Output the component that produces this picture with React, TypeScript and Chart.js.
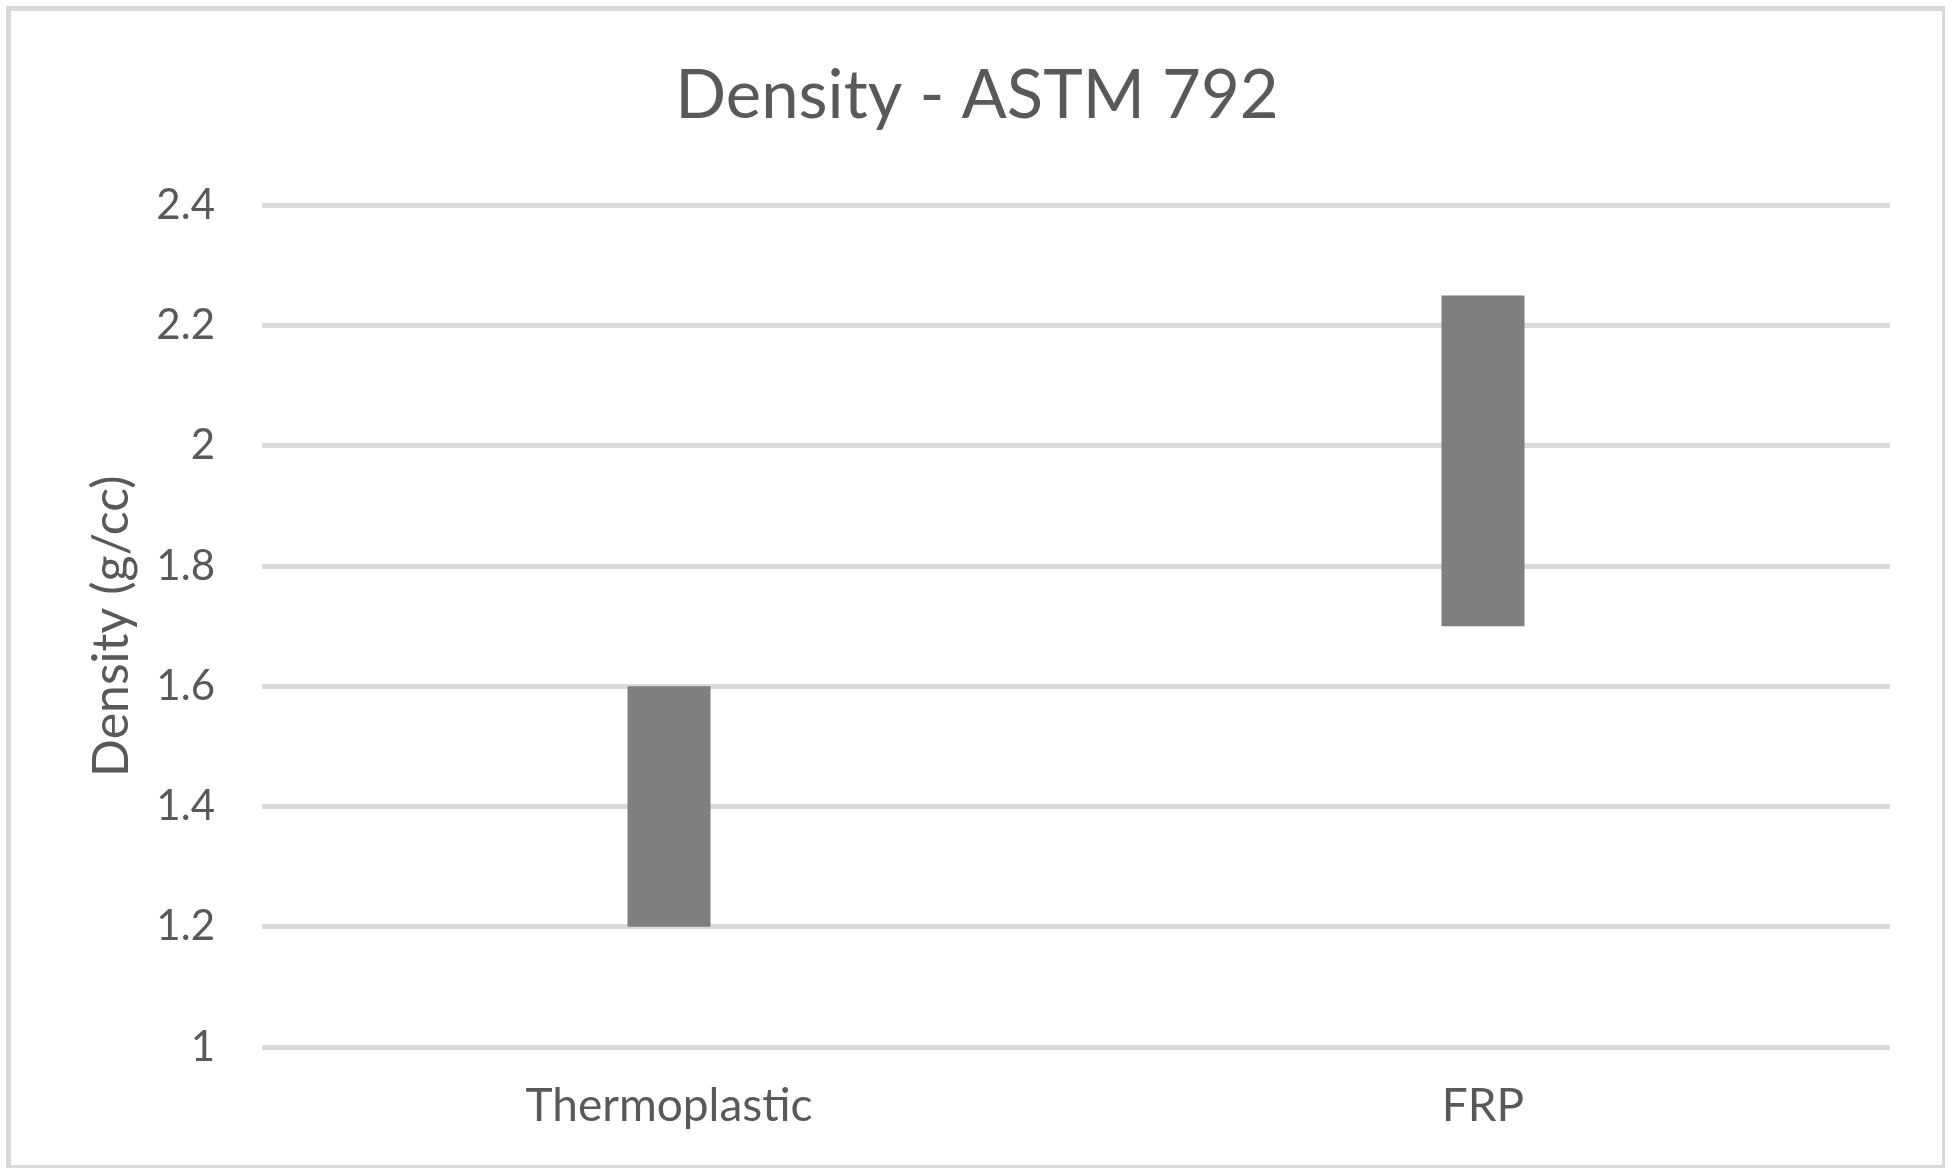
import React, { useEffect, useRef } from "react";
import { Chart, registerables } from "chart.js";

Chart.register(...registerables);

const categories = ["Thermoplastic", "FRP"];
const lowValues = [1.2, 1.7];
const highValues = [1.6, 2.25];
const yTickValues = [1, 1.2, 1.4, 1.6, 1.8, 2, 2.2, 2.4];
const yTickLabels = ["1", "1.2", "1.4", "1.6", "1.8", "2", "2.2", "2.4"];
const chartTitle = "Density - ASTM 792";
const yAxisTitle = "Density (g/cc)";

const W = 1954;
const H = 1176;
const TEXT = "#595959";
const FONT = "Lato";

const borderPlugin = {
  id: "outerBorder",
  beforeDraw(chart: any) {
    const ctx = chart.ctx;
    ctx.save();
    ctx.fillStyle = "#ffffff";
    ctx.fillRect(0, 0, chart.width, chart.height);
    ctx.fillStyle = "#d9d9d9";
    ctx.fillRect(6, 6, 1939, 5);
    ctx.fillRect(6, 6, 5, 1162);
    ctx.fillRect(1942, 6, 3, 1162);
    ctx.fillRect(6, 1165, 1939, 3);
    ctx.restore();
  },
};

export default function App() {
  const ref = useRef<HTMLCanvasElement>(null);
  useEffect(() => {
    document.body.style.margin = "0";
    const canvas = ref.current!;
    const chart = new Chart(canvas, {
      type: "bar",
      data: {
        labels: categories,
        datasets: [
          {
            data: categories.map((_, i) => [lowValues[i], highValues[i]]) as any,
            backgroundColor: "#7f7f7f",
            borderWidth: 0,
            barPercentage: 0.102,
            categoryPercentage: 1,
          },
        ],
      },
      options: {
        responsive: false,
        animation: false,
        devicePixelRatio: 1,
        layout: { padding: { left: 64, right: 64, top: 11, bottom: 9 } },
        plugins: {
          legend: { display: false },
          tooltip: { enabled: false },
          title: {
            display: true,
            text: chartTitle,
            color: TEXT,
            font: { family: FONT, size: 67, weight: "normal" },
            padding: { top: 45, bottom: 69 },
          },
        },
        scales: {
          x: {
            grid: { display: false, drawTicks: false },
            border: { display: false },
            ticks: {
              color: TEXT,
              font: { family: FONT, size: 46 },
              padding: 32,
            },
            afterFit(scale: any) {
              scale.height = 1176 - 1047 - 9;
            },
          },
          y: {
            min: 1,
            max: 2.4,
            grid: { color: "#d9d9d9", lineWidth: 5, drawTicks: false },
            border: { display: false },
            afterBuildTicks(scale: any) {
              scale.ticks = yTickValues.map((v) => ({ value: v }));
            },
            ticks: {
              color: TEXT,
              font: { family: FONT, size: 42 },
              padding: 47,
              callback: (v: any) => {
                const i = yTickValues.findIndex((t) => Math.abs(t - Number(v)) < 1e-9);
                return i >= 0 ? yTickLabels[i] : "";
              },
            },
            title: {
              display: true,
              text: yAxisTitle,
              color: TEXT,
              font: { family: FONT, size: 50 },
              padding: { top: 18, bottom: 0 },
            },
            afterFit(scale: any) {
              scale.width = 198;
            },
          },
        },
      },
      plugins: [borderPlugin],
    });
    return () => chart.destroy();
  }, []);
  return (
    <div style={{ width: W, height: H }}>
      <canvas ref={ref} width={W} height={H} style={{ display: "block", width: W, height: H }} />
    </div>
  );
}
